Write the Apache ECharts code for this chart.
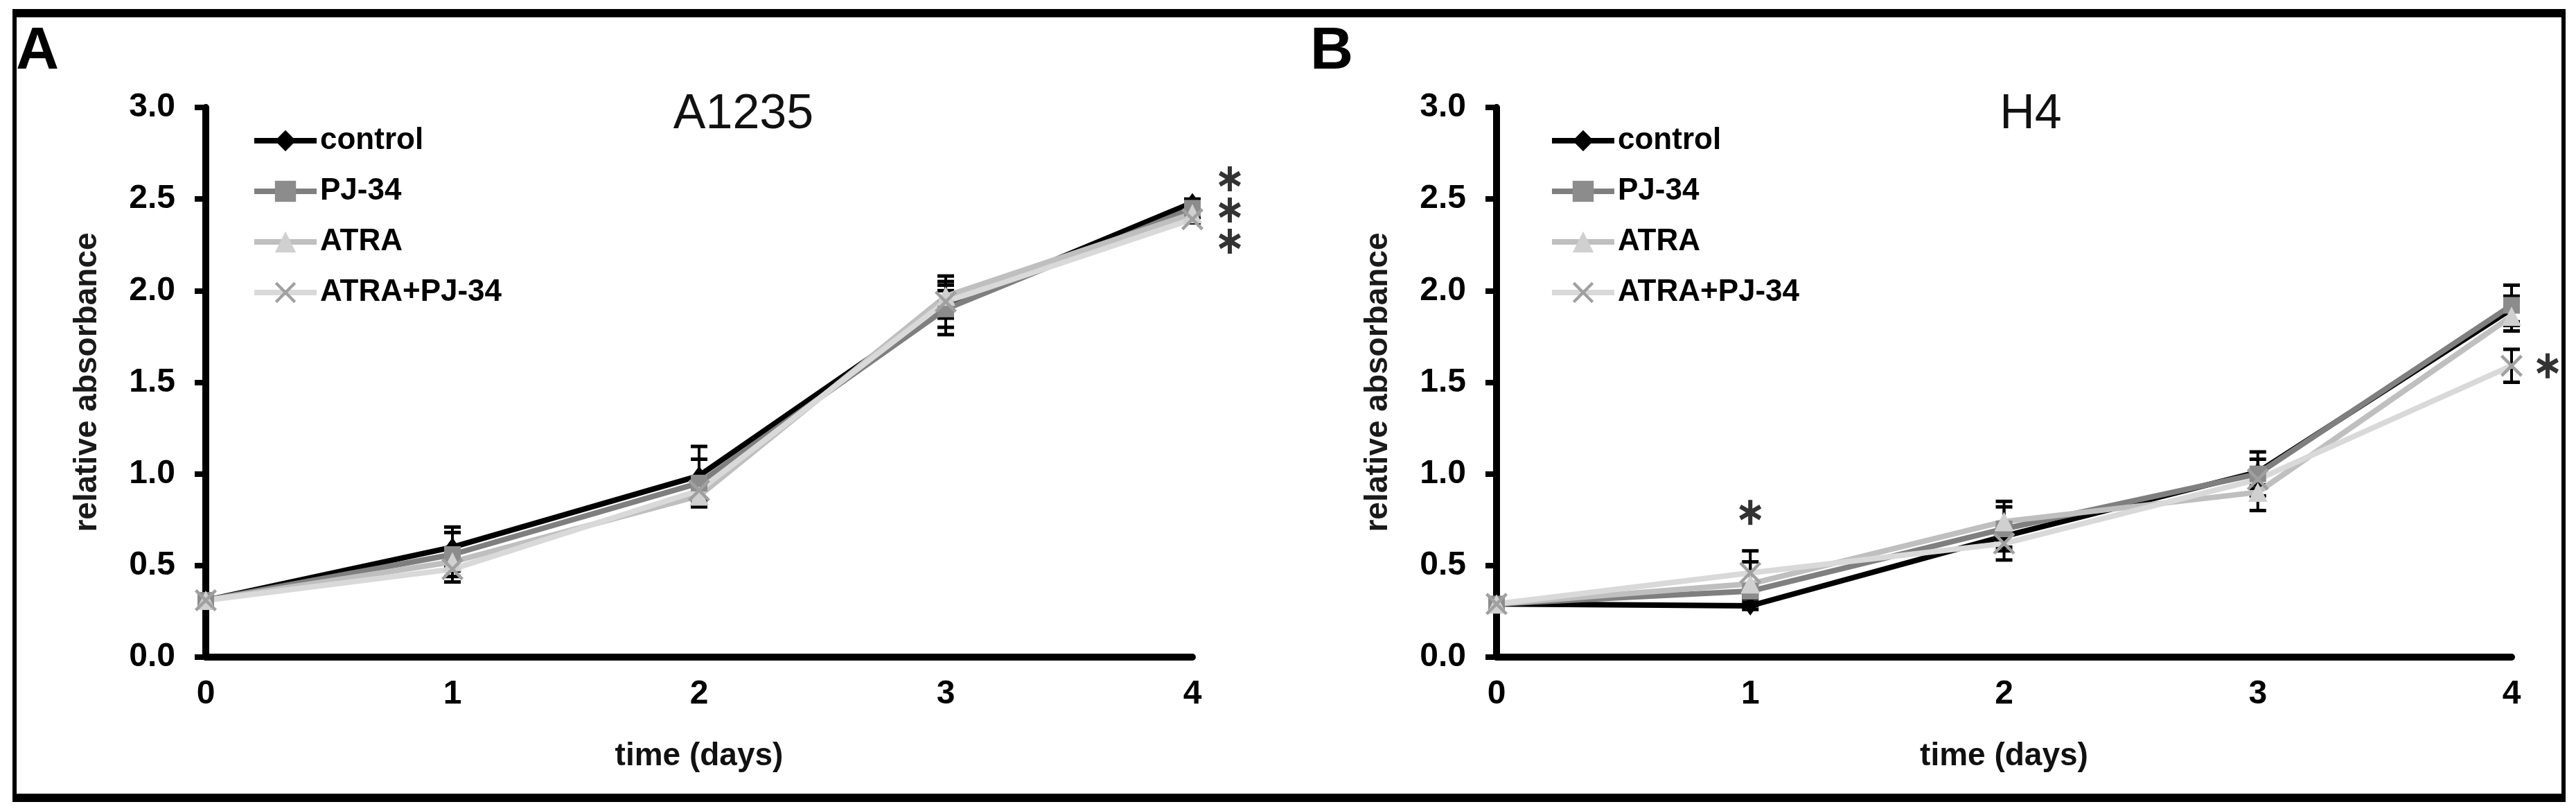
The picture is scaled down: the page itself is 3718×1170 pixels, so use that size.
<!DOCTYPE html>
<html lang="en">

<head>
    <meta charset="UTF-8">
    <title>relative absorbance</title>
    <script src="https://cdn.jsdelivr.net/npm/echarts@6/dist/echarts.min.js"></script>
</head>

<style>
    body {
        margin: 0;
        background: #fff;
    }

    #chart {
        width: 3718px;
        height: 1170px;
    }
</style>

<body>
    <div id="chart"></div>
</body>

</html>

<script>
    // time (days)
    let days = [0, 1, 2, 3, 4];
    let names = ['control', 'PJ-34', 'ATRA', 'ATRA+PJ-34'];
    let yTicks = [0, 0.5, 1.0, 1.5, 2.0, 2.5, 3.0];

    // A1235 means / error
    let ctrlA = [0.31, 0.60, 0.99, 1.92, 2.48];
    let pjA = [0.31, 0.56, 0.95, 1.90, 2.45];
    let atraA = [0.31, 0.52, 0.88, 1.97, 2.42];
    let comboA = [0.31, 0.48, 0.91, 1.94, 2.39];
    let ctrlAErr = [0.01, 0.11, 0.16, 0.16, 0.02];
    let pjAErr = [0.01, 0.12, 0.13, 0.10, 0.02];
    let atraAErr = [0.01, 0.05, 0.04, 0.08, 0.02];
    let comboAErr = [0.01, 0.07, 0.05, 0.09, 0.02];

    // H4 means / error
    let ctrlB = [0.29, 0.28, 0.66, 1.01, 1.90];
    let pjB = [0.29, 0.36, 0.70, 1.00, 1.92];
    let atraB = [0.29, 0.40, 0.74, 0.90, 1.86];
    let comboB = [0.29, 0.46, 0.62, 0.97, 1.59];
    let ctrlBErr = [0.01, 0.02, 0.06, 0.07, 0.07];
    let pjBErr = [0.01, 0.04, 0.12, 0.12, 0.11];
    let atraBErr = [0.01, 0.12, 0.11, 0.10, 0.08];
    let comboBErr = [0.01, 0.12, 0.09, 0.05, 0.09];

    // significance stars: [day, level], shifted right in px
    let starsA = [[4, 2.61], [4, 2.44], [4, 2.27]];
    let starsAShift = [54, 54, 54];
    let starsB = [[1, 0.79], [4, 1.59]];
    let starsBShift = [0, 52];

    let lineColor = ['#000000', '#7f7f7f', '#bfbfbf', '#d9d9d9'];
    let markColor = ['#000000', '#8c8c8c', '#d0d0d0', '#a0a0a0'];
    let xPath = 'path://M0,1L1,0L5,4L9,0L10,1L6,5L10,9L9,10L5,6L1,10L0,9L4,5Z';
    let starPath = 'path://M41,0L59,0L59,100L41,100Z' +
        'M2.2,34.4L11.2,18.8L97.8,65.6L88.8,81.2Z' +
        'M11.2,81.2L2.2,65.6L88.8,18.8L97.8,34.4Z';
    let symbols = ['diamond', 'rect', 'triangle', xPath];
    let symSize = [[20, 28], 24, 28, 32];

    let sans = 'Liberation Sans, Arial, sans-serif';

    var myChart = echarts.init(document.getElementById('chart'));

    function zip(ys) {
        return days.map(function (d, i) {
            return [d, ys[i]];
        });
    }

    function lineSeries(idx, name, ys) {
        var k = names.indexOf(name);
        return {
            name: name,
            type: 'line',
            xAxisIndex: idx,
            yAxisIndex: idx,
            data: zip(ys),
            symbol: symbols[k],
            symbolSize: symSize[k],
            lineStyle: { width: 8, color: lineColor[k] },
            itemStyle: { color: markColor[k] },
            z: 3,
            animation: false
        };
    }

    function errSeries(idx, means, errs) {
        var data = [];
        for (var s = 0; s < means.length; s++) {
            for (var i = 0; i < days.length; i++) {
                data.push([days[i], means[s][i] - errs[s][i], means[s][i] + errs[s][i]]);
            }
        }
        return {
            type: 'custom',
            xAxisIndex: idx,
            yAxisIndex: idx,
            data: data,
            z: 2,
            silent: true,
            animation: false,
            renderItem: function (params, api) {
                var lo = api.coord([api.value(0), api.value(1)]);
                var hi = api.coord([api.value(0), api.value(2)]);
                var w = 12;
                var st = { stroke: '#000', lineWidth: 5 };
                return {
                    type: 'group',
                    children: [
                        { type: 'line', shape: { x1: lo[0], y1: lo[1], x2: hi[0], y2: hi[1] }, style: { stroke: '#000', lineWidth: 4 } },
                        { type: 'line', shape: { x1: lo[0] - w, y1: lo[1], x2: lo[0] + w, y2: lo[1] }, style: st },
                        { type: 'line', shape: { x1: hi[0] - w, y1: hi[1], x2: hi[0] + w, y2: hi[1] }, style: st }
                    ]
                };
            }
        };
    }

    function starSeries(idx, pts, shift) {
        return {
            type: 'scatter',
            xAxisIndex: idx,
            yAxisIndex: idx,
            symbol: starPath,
            symbolSize: [32, 36],
            itemStyle: { color: '#000' },
            silent: true,
            animation: false,
            z: 5,
            data: pts.map(function (p, i) {
                return { value: p, symbolOffset: [shift[i], 0] };
            })
        };
    }

    function xAxisOf(idx) {
        return {
            type: 'value',
            gridIndex: idx,
            min: 0,
            max: 4,
            interval: 1,
            name: 'time (days)',
            nameLocation: 'middle',
            nameGap: 120,
            nameTextStyle: { fontFamily: sans, fontWeight: 'bold', fontSize: 46, color: '#111' },
            axisLine: { show: true, lineStyle: { color: '#000', width: 10 } },
            axisTick: { show: false },
            splitLine: { show: false },
            axisLabel: { fontFamily: sans, fontWeight: 'bold', fontSize: 48, color: '#000', margin: 30 }
        };
    }

    function yAxisOf(idx) {
        return {
            type: 'value',
            gridIndex: idx,
            min: yTicks[0],
            max: yTicks[yTicks.length - 1],
            interval: 0.5,
            name: 'relative absorbance',
            nameLocation: 'middle',
            nameGap: 148,
            nameTextStyle: { fontFamily: sans, fontWeight: 'bold', fontSize: 46, color: '#1a1a1a' },
            axisLine: { show: true, lineStyle: { color: '#000', width: 10 } },
            axisTick: { show: true, length: 16, lineStyle: { color: '#000', width: 8 } },
            splitLine: { show: false },
            axisLabel: {
                fontFamily: sans, fontWeight: 'bold', fontSize: 48, color: '#000', margin: 44,
                formatter: function (v) { return v.toFixed(1); }
            }
        };
    }

    function legendOf(left) {
        return {
            orient: 'vertical',
            left: left,
            top: 176,
            itemWidth: 90,
            itemHeight: 38,
            itemGap: 29,
            data: names,
            lineStyle: { width: 8 },
            textStyle: { fontFamily: sans, fontWeight: 'bold', fontSize: 44, color: '#000' }
        };
    }

    option = {
        backgroundColor: '#fff',
        animation: false,
        grid: [
            { left: 297, top: 155, width: 1424, height: 793 },
            { left: 2160, top: 155, width: 1465, height: 793 }
        ],
        xAxis: [xAxisOf(0), xAxisOf(1)],
        yAxis: [yAxisOf(0), yAxisOf(1)],
        legend: [legendOf(358), legendOf(2231)],
        graphic: [
            // frame
            { type: 'rect', shape: { x: 18, y: 13, width: 3685, height: 12 }, style: { fill: '#000' } },
            { type: 'rect', shape: { x: 18, y: 1145, width: 3685, height: 12 }, style: { fill: '#000' } },
            { type: 'rect', shape: { x: 18, y: 13, width: 6, height: 1144 }, style: { fill: '#000' } },
            { type: 'rect', shape: { x: 3697, y: 13, width: 6, height: 1144 }, style: { fill: '#000' } },
            // panel letters
            { type: 'text', left: 23, top: 32, style: { text: 'A', fontFamily: sans, fontWeight: 'bold', fontSize: 86, fill: '#000' } },
            { type: 'text', left: 1891, top: 32, style: { text: 'B', fontFamily: sans, fontWeight: 'bold', fontSize: 86, fill: '#000' } },
            // titles
            { type: 'text', x: 1073, y: 166, style: { text: 'A1235', fontFamily: sans, fontSize: 70, fill: '#111', textAlign: 'center', textVerticalAlign: 'middle' } },
            { type: 'text', x: 2931, y: 166, style: { text: 'H4', fontFamily: sans, fontSize: 70, fill: '#111', textAlign: 'center', textVerticalAlign: 'middle' } }
        ],
        series: [
            errSeries(0, [ctrlA, pjA, atraA, comboA], [ctrlAErr, pjAErr, atraAErr, comboAErr]),
            lineSeries(0, 'control', ctrlA),
            lineSeries(0, 'PJ-34', pjA),
            lineSeries(0, 'ATRA', atraA),
            lineSeries(0, 'ATRA+PJ-34', comboA),
            starSeries(0, starsA, starsAShift),
            errSeries(1, [ctrlB, pjB, atraB, comboB], [ctrlBErr, pjBErr, atraBErr, comboBErr]),
            lineSeries(1, 'control', ctrlB),
            lineSeries(1, 'PJ-34', pjB),
            lineSeries(1, 'ATRA', atraB),
            lineSeries(1, 'ATRA+PJ-34', comboB),
            starSeries(1, starsB, starsBShift)
        ]
    };

    myChart.setOption(option);
    window.addEventListener('resize', function () {
        myChart.resize();
    });
</script>
